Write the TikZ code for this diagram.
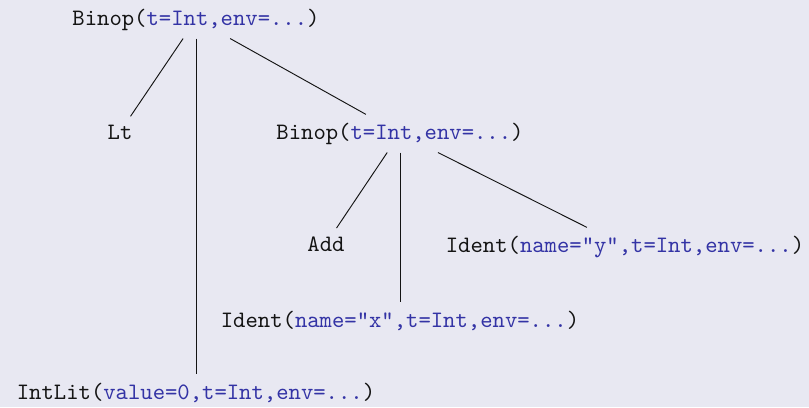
\documentclass[tikz,border=0pt]{standalone}
\definecolor{bg}{RGB}{232,232,242}
\definecolor{fld}{RGB}{51,51,165}
\definecolor{ink}{RGB}{20,20,20}
\newcommand{\fv}[1]{\textcolor{fld}{#1}}
\begin{document}
\begin{tikzpicture}[x=0.425pt,y=-0.425pt,
  tn/.style={font=\ttfamily, text=ink, anchor=base},
  ln/.style={draw=ink, line width=0.4pt}]
\fill[bg] (0,0) rectangle (809,407);
\useasboundingbox (0,0) rectangle (809,407);
\node[tn] (root) at (196,25) {Binop(\fv{t=Int,env=...})};
\node[tn] (lt) at (120,139) {Lt};
\node[tn] (bin2) at (400,139) {Binop(\fv{t=Int,env=...})};
\node[tn] (add) at (326,251) {Add};
\node[tn] (idy) at (625,252) {Ident(\fv{name="y",t=Int,env=...})};
\node[tn] (idx) at (400,327) {Ident(\fv{name="x",t=Int,env=...})};
\node[tn] (lit) at (196,399) {IntLit(\fv{value=0,t=Int,env=...})};
\draw[ln] (root) -- (lt);
\draw[ln] (root) -- (bin2);
\draw[ln] (root) -- (lit);
\draw[ln] (bin2) -- (add);
\draw[ln] (bin2) -- (idx);
\draw[ln] (bin2) -- (idy);
\end{tikzpicture}
\end{document}
